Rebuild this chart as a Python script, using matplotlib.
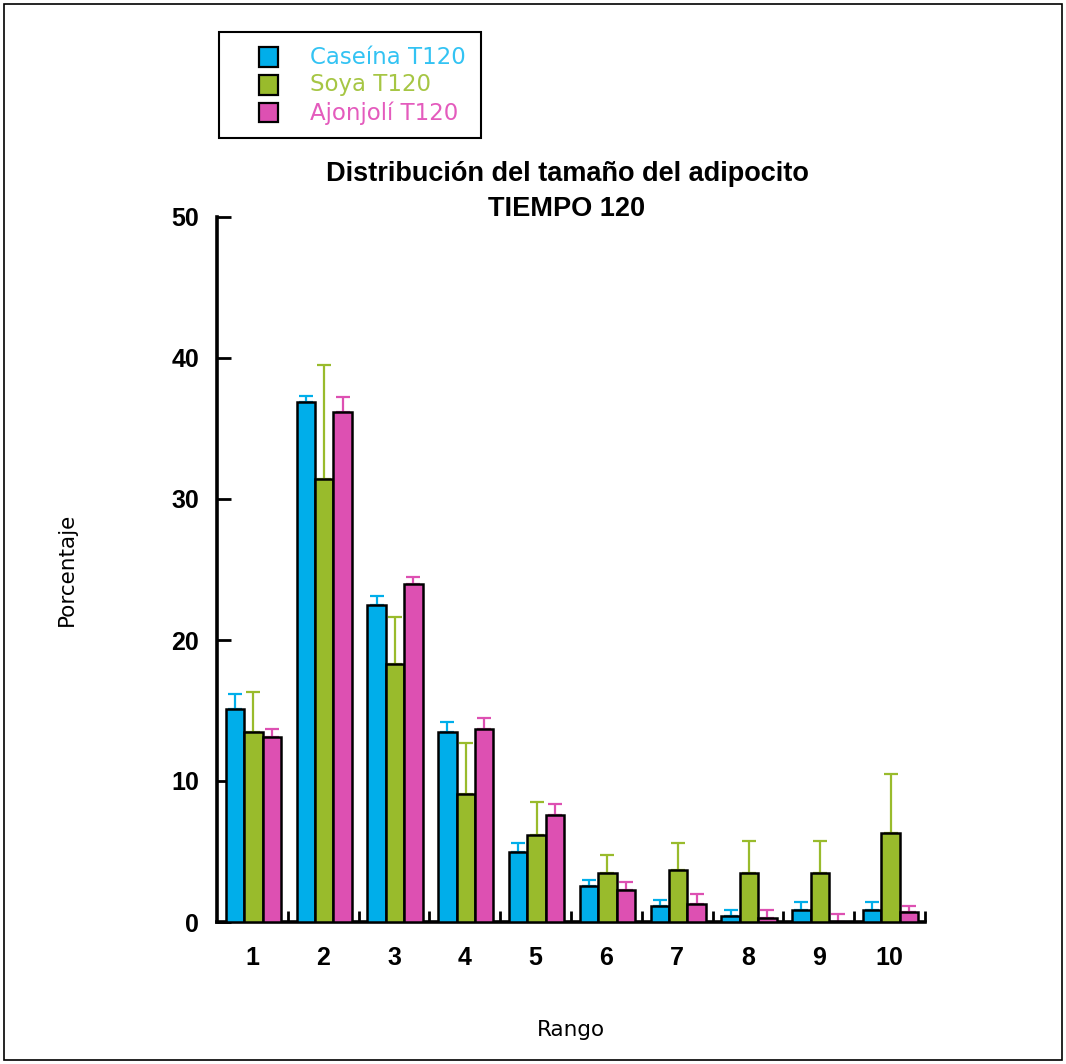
import numpy as np
import matplotlib
matplotlib.use("Agg")
import matplotlib.pyplot as plt
from matplotlib.patches import Rectangle

# --- DATA ---
rangos = [1, 2, 3, 4, 5, 6, 7, 8, 9, 10]
series_names = ["Caseína T120", "Soya T120", "Ajonjolí T120"]

caseina = [15.1, 36.9, 22.5, 13.5, 5.0, 2.55, 1.15, 0.45, 0.85, 0.85]
caseina_err = [1.1, 0.4, 0.6, 0.7, 0.6, 0.45, 0.4, 0.4, 0.55, 0.55]

soya = [13.5, 31.4, 18.3, 9.1, 6.2, 3.5, 3.7, 3.5, 3.5, 6.3]
soya_err = [2.8, 8.1, 3.3, 3.6, 2.3, 1.25, 1.9, 2.25, 2.25, 4.2]

ajonjoli = [13.1, 36.2, 24.0, 13.7, 7.6, 2.27, 1.28, 0.3, 0.0, 0.68]
ajonjoli_err = [0.6, 1.0, 0.5, 0.8, 0.8, 0.55, 0.7, 0.55, 0.6, 0.47]

bar_colors = ["#00aeea", "#99bb2c", "#dd50b2"]
text_colors = ["#33c3f3", "#a6c644", "#e45bbd"]

# --- FIGURE ---
W, H = 1066, 1064
fig = plt.figure(figsize=(W / 100, H / 100), dpi=100)
fig.patches.append(Rectangle((4 / W, 4 / H), 1 - 8 / W, 1 - 8 / H, transform=fig.transFigure,
                             fill=False, edgecolor="black", lw=1.2))

ax = fig.add_axes([217 / W, (H - 922) / H, (925 - 217) / W, (922 - 217) / H])

x = np.array(rangos, dtype=float)
width = 0.26
values = [caseina, soya, ajonjoli]
errors = [caseina_err, soya_err, ajonjoli_err]

for j, (vals, errs) in enumerate(zip(values, errors)):
    pos = x + (j - 1) * width + 0.015
    ax.errorbar(pos, vals, yerr=[np.zeros(len(errs)), errs], fmt="none",
                ecolor=bar_colors[j], elinewidth=1.6, capsize=5, capthick=1.6, zorder=2)
    ax.bar(pos, vals, width=width, color=bar_colors[j], edgecolor="black",
           linewidth=1.8, zorder=3, label=series_names[j])

ax.set_xlim(0.5, 10.5)
ax.set_ylim(0, 50)

for s in ["top", "right"]:
    ax.spines[s].set_visible(False)
for s in ["left", "bottom"]:
    ax.spines[s].set_linewidth(2.6)

ax.set_yticks([0, 10, 20, 30, 40, 50])
ax.tick_params(axis="y", direction="in", length=10, width=2, pad=13,
               labelsize=18)
ax.set_xticks(rangos)
ax.set_xticks(np.arange(1.5, 10.6, 1.0), minor=True)
ax.tick_params(axis="x", which="major", length=0, pad=17, labelsize=18)
ax.tick_params(axis="x", which="minor", direction="in", length=8, width=2)
for lab in ax.get_xticklabels() + ax.get_yticklabels():
    lab.set_fontweight("bold")
    lab.set_fontfamily("Liberation Sans")

ax.set_ylabel("Porcentaje", fontsize=15.5, family="DejaVu Sans", labelpad=0)
ax.yaxis.set_label_coords((77 - 217) / (925 - 217), 0.5)
ax.set_xlabel("Rango", fontsize=15.5, family="DejaVu Sans")
ax.xaxis.set_label_coords(0.5, -(1020 - 922) / (922 - 217))

fig.text(567 / W, 1 - 174 / H, "Distribución del tamaño del adipocito", ha="center", va="center",
         fontsize=19.5, fontweight="bold", family="Liberation Sans")
fig.text(567 / W, 1 - 209 / H, "TIEMPO 120", ha="center", va="center",
         fontsize=19.5, fontweight="bold", family="Liberation Sans")

# legend box drawn by hand to match the boxed key in the reference
fig.patches.append(Rectangle((219 / W, 1 - 138 / H), (481 - 219) / W, (138 - 32) / H,
                             transform=fig.transFigure, fill=False, edgecolor="black", lw=1.5))
for k, name in enumerate(series_names):
    yc = 57 + 28 * k
    fig.patches.append(Rectangle((259 / W, 1 - (yc + 9.5) / H), 19 / W, 19 / H,
                                 transform=fig.transFigure, facecolor=bar_colors[k],
                                 edgecolor="black", lw=1.6))
    fig.text(310 / W, 1 - yc / H, name, ha="left", va="center", color=text_colors[k],
             fontsize=16.5, family="DejaVu Sans")

fig.savefig("out.png", dpi=100)
